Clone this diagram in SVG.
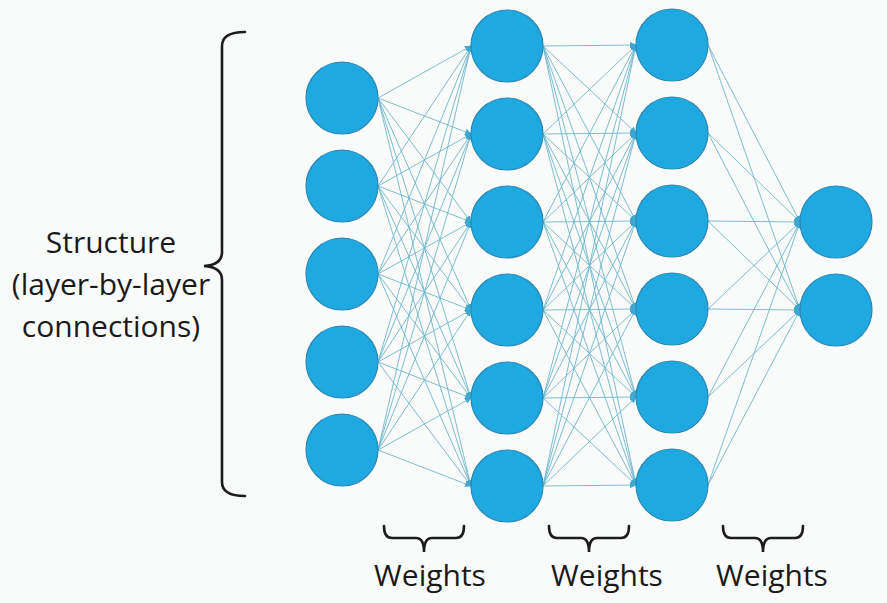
<svg xmlns="http://www.w3.org/2000/svg" width="887" height="603" viewBox="0 0 887 603">
<defs>
<marker id="ah" markerWidth="7" markerHeight="6" refX="6" refY="3" orient="auto" markerUnits="userSpaceOnUse">
<path d="M0,0 L7,3 L0,6 z" fill="#3fa9d0"/>
</marker>
<path id="ub" d="M-40,0 Q-40,12 -32,12 L-8,12 Q0,12 0,26 Q0,12 8,12 L32,12 Q40,12 40,0"/>
</defs>
<style>
.n{fill:#1fa9e1;stroke:#2a88b4;stroke-width:1.2}
.c path{stroke:#6fb5cc;stroke-width:0.9;fill:none;marker-end:url(#ah)}
.br{fill:none;stroke:#1c1c1c;stroke-width:2.6;stroke-linecap:round}
.t{font-family:"Open Sans","Noto Sans",sans-serif;font-size:30px;fill:#1a1a1a;text-anchor:middle}
</style>
<rect width="887" height="603" fill="#f9fbfb"/>
<g id="connectors" class="c">
<path d="M378,98L471,46"/><path d="M378,98L471,134"/><path d="M378,98L471,222"/><path d="M378,98L471,310"/><path d="M378,98L471,398"/><path d="M378,98L471,486"/>
<path d="M378,186L471,46"/><path d="M378,186L471,134"/><path d="M378,186L471,222"/><path d="M378,186L471,310"/><path d="M378,186L471,398"/><path d="M378,186L471,486"/>
<path d="M378,274L471,46"/><path d="M378,274L471,134"/><path d="M378,274L471,222"/><path d="M378,274L471,310"/><path d="M378,274L471,398"/><path d="M378,274L471,486"/>
<path d="M378,362L471,46"/><path d="M378,362L471,134"/><path d="M378,362L471,222"/><path d="M378,362L471,310"/><path d="M378,362L471,398"/><path d="M378,362L471,486"/>
<path d="M378,450L471,46"/><path d="M378,450L471,134"/><path d="M378,450L471,222"/><path d="M378,450L471,310"/><path d="M378,450L471,398"/><path d="M378,450L471,486"/>
<path d="M543,46L636,45"/><path d="M543,46L636,133"/><path d="M543,46L636,221"/><path d="M543,46L636,309"/><path d="M543,46L636,397"/><path d="M543,46L636,485"/>
<path d="M543,134L636,45"/><path d="M543,134L636,133"/><path d="M543,134L636,221"/><path d="M543,134L636,309"/><path d="M543,134L636,397"/><path d="M543,134L636,485"/>
<path d="M543,222L636,45"/><path d="M543,222L636,133"/><path d="M543,222L636,221"/><path d="M543,222L636,309"/><path d="M543,222L636,397"/><path d="M543,222L636,485"/>
<path d="M543,310L636,45"/><path d="M543,310L636,133"/><path d="M543,310L636,221"/><path d="M543,310L636,309"/><path d="M543,310L636,397"/><path d="M543,310L636,485"/>
<path d="M543,398L636,45"/><path d="M543,398L636,133"/><path d="M543,398L636,221"/><path d="M543,398L636,309"/><path d="M543,398L636,397"/><path d="M543,398L636,485"/>
<path d="M543,486L636,45"/><path d="M543,486L636,133"/><path d="M543,486L636,221"/><path d="M543,486L636,309"/><path d="M543,486L636,397"/><path d="M543,486L636,485"/>
<path d="M708,45L800,222"/><path d="M708,45L800,310"/>
<path d="M708,133L800,222"/><path d="M708,133L800,310"/>
<path d="M708,221L800,222"/><path d="M708,221L800,310"/>
<path d="M708,309L800,222"/><path d="M708,309L800,310"/>
<path d="M708,397L800,222"/><path d="M708,397L800,310"/>
<path d="M708,485L800,222"/><path d="M708,485L800,310"/>
</g>
<g id="n1_1"><circle class="n" cx="342" cy="98" r="36"/></g>
<g id="n1_2"><circle class="n" cx="342" cy="186" r="36"/></g>
<g id="n1_3"><circle class="n" cx="342" cy="274" r="36"/></g>
<g id="n1_4"><circle class="n" cx="342" cy="362" r="36"/></g>
<g id="n1_5"><circle class="n" cx="342" cy="450" r="36"/></g>
<g id="n2_1"><circle class="n" cx="507" cy="46" r="36"/></g>
<g id="n2_2"><circle class="n" cx="507" cy="134" r="36"/></g>
<g id="n2_3"><circle class="n" cx="507" cy="222" r="36"/></g>
<g id="n2_4"><circle class="n" cx="507" cy="310" r="36"/></g>
<g id="n2_5"><circle class="n" cx="507" cy="398" r="36"/></g>
<g id="n2_6"><circle class="n" cx="507" cy="486" r="36"/></g>
<g id="n3_1"><circle class="n" cx="672" cy="45" r="36"/></g>
<g id="n3_2"><circle class="n" cx="672" cy="133" r="36"/></g>
<g id="n3_3"><circle class="n" cx="672" cy="221" r="36"/></g>
<g id="n3_4"><circle class="n" cx="672" cy="309" r="36"/></g>
<g id="n3_5"><circle class="n" cx="672" cy="397" r="36"/></g>
<g id="n3_6"><circle class="n" cx="672" cy="485" r="36"/></g>
<g id="n4_1"><circle class="n" cx="836" cy="222" r="36"/></g>
<g id="n4_2"><circle class="n" cx="836" cy="310" r="36"/></g>
<g id="structure">
<path class="br" d="M245,32 Q222,32 222,46 L222,252 Q222,265 204,266 Q222,267 222,280 L222,482 Q222,496 245,496"/>
<text class="t" x="111" y="253">Structure</text>
<text class="t" x="111" y="295">(layer-by-layer</text>
<text class="t" x="111" y="337">connections)</text>
</g>
<g id="w1"><use href="#ub" class="br" x="424" y="526"/><text class="t" x="430" y="586">Weights</text></g>
<g id="w2"><use href="#ub" class="br" x="589" y="526"/><text class="t" x="607" y="586">Weights</text></g>
<g id="w3"><use href="#ub" class="br" x="763" y="526"/><text class="t" x="772" y="586">Weights</text></g>
</svg>
